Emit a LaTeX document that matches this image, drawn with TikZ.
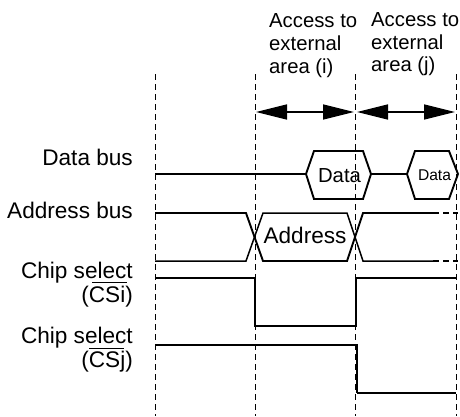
\documentclass[tikz,border=0pt]{standalone}
\usepackage{fontspec}
\setmainfont{Liberation Sans}
\usetikzlibrary{arrows.meta}
\tikzset{
  guide/.style={draw=black,line width=1pt,dash pattern=on 6pt off 4pt},
  sig/.style={draw=black,line width=1.9pt,line join=miter},
  sigthin/.style={draw=black,line width=1.5pt,line join=miter},
  sigdash/.style={draw=black,line width=1.5pt,dash pattern=on 6pt off 4pt},
  span/.style={draw=black,line width=1.6pt,{Triangle[length=31pt,width=15pt]}-{Triangle[length=31pt,width=15pt]}},
  lab/.style={inner sep=0pt,anchor=base east,font=\fontsize{22.6}{23}\selectfont},
  head/.style={inner sep=0pt,anchor=base west,font=\fontsize{20.3}{23}\selectfont},
  bar/.style={draw=black,line width=1pt}
}
\begin{document}
\begin{tikzpicture}[x=1pt,y=-1pt]
\useasboundingbox (0,0) rectangle (460,416);
% guides
\foreach \x/\n in {155/a,255/b,355/c,456/d}{
  \coordinate (t\n) at (\x,74);
  \coordinate (u\n) at (\x,416);
  \draw[guide] (t\n) -- (u\n);
}
% headings
\node[head] (h1a) at (269,27) {Access to};
\node[head] (h1b) at (269,50) {external};
\node[head] (h1c) at (269,73) {area (i)};
\node[head] (h2a) at (371,26) {Access to};
\node[head] (h2b) at (371,49) {external};
\node[head] (h2c) at (371,71) {area (j)};
% spans
\coordinate (s1) at (256,112);
\coordinate (s2) at (354,112);
\coordinate (s3) at (357,112);
\coordinate (s4) at (455,112);
\draw[span] (s1) -- (s2);
\draw[span] (s3) -- (s4);
% labels
\node[lab] (ldb) at (133,165) {Data bus};
\node[lab] (lab) at (133,218) {Address bus};
\node[lab] (lc1) at (133,278) {Chip select};
\node[lab] (li) at (133,302) {(CSi)};
\node[lab] (lc2) at (133,343) {Chip select};
\node[lab] (lj) at (133,367) {(CSj)};
\coordinate (o1a) at (92,282); \coordinate (o1b) at (127,282);
\coordinate (o2a) at (89,348); \coordinate (o2b) at (124,348);
\draw[bar] (o1a) -- (o1b);
\draw[bar] (o2a) -- (o2b);
% data bus
\draw[sig] (155,174) -- (306,174) -- (314,151) -- (363,151) -- (371,174) -- (363,199) -- (314,199) -- (306,174);
\draw[sig] (371,174) -- (407,174) -- (415,151) -- (449,151) -- (458,174) -- (449,199) -- (415,199) -- (407,174);
\node[inner sep=0pt,anchor=base,font=\fontsize{20.3}{23}\selectfont] (d1) at (339.5,182) {Data};
\node[inner sep=0pt,anchor=base,font=\fontsize{15.6}{18}\selectfont] (d2) at (434.5,180) {Data};
% address bus
\draw[sig] (155,213) -- (246,213) -- (263,261) -- (347,261) -- (363,213) -- (433,213);
\draw[sigthin] (155,261) -- (246,261) -- (263,213) -- (347,213) -- (363,261) -- (433,261);
\draw[sigdash] (433,213) -- (458,213);
\draw[sigdash] (433,261) -- (458,261);
\node[inner sep=0pt,anchor=base,font=\fontsize{22.6}{23}\selectfont] (ad) at (305,243) {Address};
% chip selects
\draw[sigthin] (155,278) -- (255,278) -- (255,326) -- (356,326) -- (356,278) -- (457,278);
\draw[sig] (155,345) -- (357,345) -- (357,393);
\draw[sigthin] (357,393) -- (456,393);
\end{tikzpicture}
\end{document}
